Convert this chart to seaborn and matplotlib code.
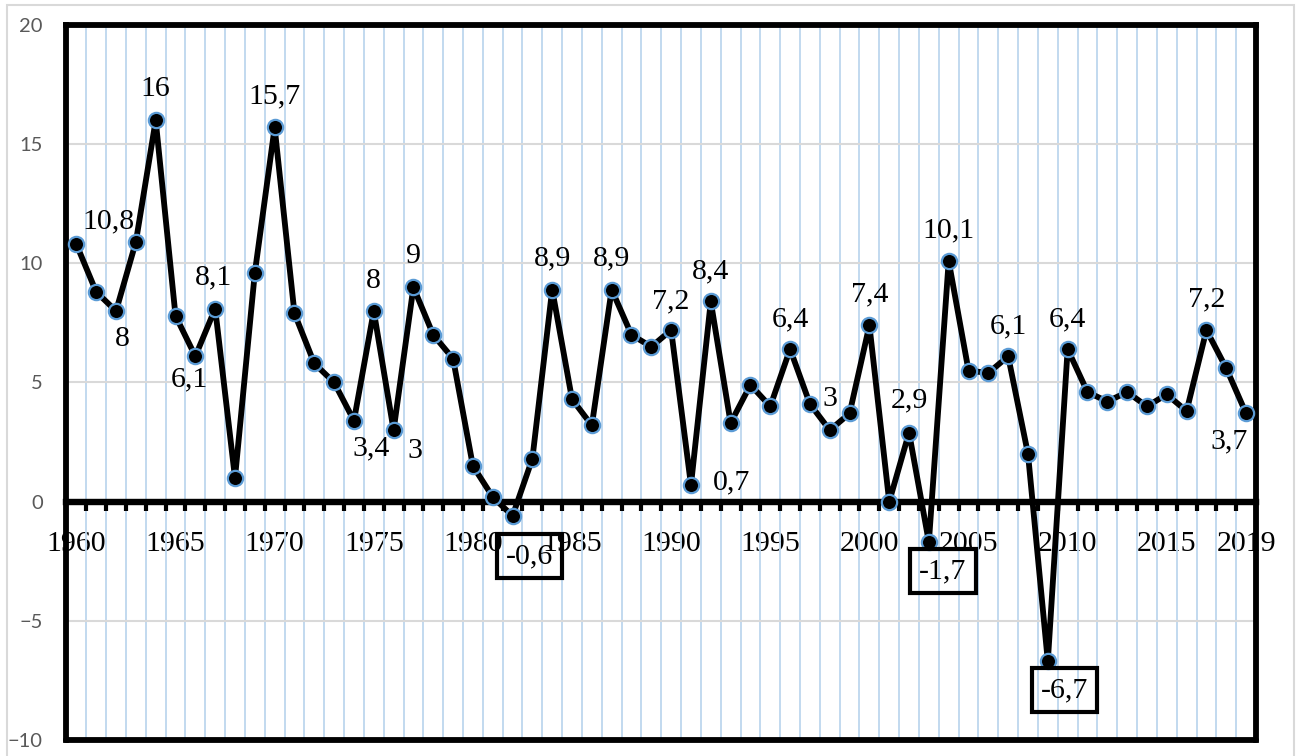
import pandas as pd
import seaborn as sns
import matplotlib.pyplot as plt
from matplotlib.patches import Rectangle

# -------------------------
# Data
# -------------------------
years = list(range(1960, 2020))
growth = [10.8, 8.8, 8.0, 10.9, 16.0, 7.8, 6.1, 8.1, 1.0, 9.6,
          15.7, 7.9, 5.8, 5.0, 3.4, 8.0, 3.0, 9.0, 7.0, 6.0,
          1.5, 0.2, -0.6, 1.8, 8.9, 4.3, 3.2, 8.9, 7.0, 6.5,
          7.2, 0.7, 8.4, 3.3, 4.9, 4.0, 6.4, 4.1, 3.0, 3.7,
          7.4, 0.0, 2.9, -1.7, 10.1, 5.5, 5.4, 6.1, 2.0, -6.7,
          6.4, 4.6, 4.2, 4.6, 4.0, 4.5, 3.8, 7.2, 5.6, 3.7]
tick_years = [1960, 1965, 1970, 1975, 1980, 1985, 1990, 1995,
              2000, 2005, 2010, 2015, 2019]
y_ticks = [-10, -5, 0, 5, 10, 15, 20]

# labelled points -> label offset in pixels (dx, dy)
plain_labels = {1960: (32, 26), 1962: (6, -25), 1964: (0, 34), 1966: (-6, -20),
                1967: (-2, 34), 1970: (0, 34), 1974: (17, -25), 1975: (0, 33),
                1976: (21, -18), 1977: (0, 34), 1984: (0, 34), 1987: (0, 34),
                1990: (0, 32), 1991: (41, 6), 1992: (0, 33), 1996: (0, 33),
                1998: (0, 34), 2000: (0, 34), 2002: (0, 35), 2004: (0, 34),
                2007: (0, 33), 2010: (0, 33), 2017: (0, 34), 2019: (-17, -25)}
boxed_labels = {1982: (17, -37), 2003: (14, -26), 2009: (17, -26)}

df = pd.DataFrame({"year": years, "growth": growth})


def fmt(v):
    s = f"{v:g}"
    return s.replace(".", ",")


# -------------------------
# Figure
# -------------------------
sns.set_theme(style="white")
fig = plt.figure(figsize=(13.01, 7.56), dpi=100)
ax = fig.add_axes([0.0511, 0.0212, 0.9143, 0.9457])

# outer chart-area border
fig.patches.append(Rectangle((7 / 1301, -0.05), 1287 / 1301, 1.05 - 5 / 756,
                             transform=fig.transFigure, fill=False,
                             edgecolor="#d9d9d9", linewidth=1.5))

sns.lineplot(data=df, x="year", y="growth", ax=ax, color="black",
             linewidth=4.2, marker="o", markersize=11,
             markerfacecolor="black", markeredgecolor="#5b9bd5",
             markeredgewidth=1.6, zorder=5)

ax.set_xlim(1959.5, 2019.5)
ax.set_ylim(-10, 20)
ax.set_xlabel("")
ax.set_ylabel("")

# gridlines
ax.set_xticks(tick_years)
ax.set_xticks([y + 0.5 for y in range(1959, 2020)], minor=True)
ax.set_yticks(y_ticks)
ax.grid(False)
ax.grid(which="minor", axis="x", color="#bdd7ee", linewidth=1.3, zorder=0)
ax.grid(which="major", axis="y", color="#d9d9d9", linewidth=1.5, zorder=0)
ax.set_axisbelow(True)

# spines
for side in ["left", "right", "top"]:
    ax.spines[side].set_color("black")
    ax.spines[side].set_linewidth(4.2)
ax.spines["bottom"].set_position(("data", 0))
ax.spines["bottom"].set_color("black")
ax.spines["bottom"].set_linewidth(4.6)
ax.axhline(-10, color="black", linewidth=4.2, clip_on=False, zorder=6)

# ticks
ax.tick_params(axis="x", which="minor", direction="out", length=6.5,
               width=3, color="black", bottom=True)
ax.tick_params(axis="x", which="major", length=0, pad=21, labelsize=21.5,
               labelcolor="black")
ax.tick_params(axis="y", length=0, pad=17, labelsize=14.5, labelcolor="#595959")
for lab in ax.get_xticklabels():
    lab.set_fontfamily("Liberation Serif")
for lab in ax.get_yticklabels():
    lab.set_fontfamily("Lato")

# data labels
for yr, (dx, dy) in plain_labels.items():
    v = growth[years.index(yr)]
    ax.annotate(fmt(v), xy=(yr, v), xytext=(dx, dy - 3), textcoords="offset pixels",
                ha="center", va="center", fontsize=21.5,
                family="Liberation Serif", color="black", zorder=7)

for yr, (dx, dy) in boxed_labels.items():
    v = growth[years.index(yr)]
    ax.annotate(fmt(v), xy=(yr, v), xytext=(dx, dy - 3), textcoords="offset pixels",
                ha="center", va="center", fontsize=21.5,
                family="Liberation Serif", color="black", zorder=7,
                bbox=dict(boxstyle="square,pad=0.3", facecolor="none",
                          edgecolor="black", linewidth=3))

fig.savefig("out.png", dpi=100)
